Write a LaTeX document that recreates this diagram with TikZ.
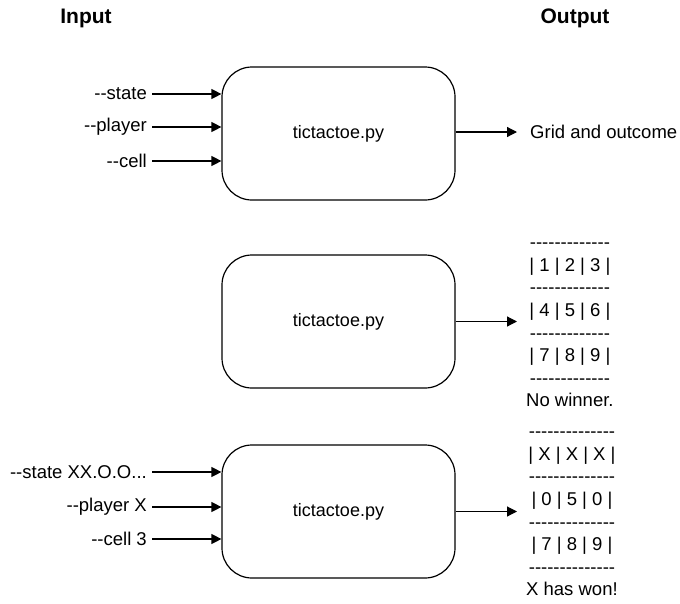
\documentclass[tikz,border=0pt]{standalone}
\usepackage{fontspec}
\setmainfont{Liberation Sans}[Ligatures=TeXOff]
\usepackage{tikz}
\usetikzlibrary{arrows.meta,positioning}

\tikzset{
    prog/.style={draw, line width=1.2pt, rounded corners=30pt, minimum width=233pt, minimum height=133pt, font=\fontsize{18}{21}\selectfont},
    arg/.style={anchor=east, inner sep=5pt, font=\fontsize{18.5}{21}\selectfont},
    result/.style={anchor=west, inner xsep=9pt, inner ysep=0pt, align=center, font=\fontsize{18.5}{22.6}\selectfont},
    title/.style={font=\fontsize{21}{24}\selectfont\bfseries},
    feed/.style={line width=1.2pt, -{Triangle[length=10pt,width=10pt]}}
}

\begin{document}
\begin{tikzpicture}[x=1pt, y=-1pt]
    \useasboundingbox (0,0) rectangle (680,603);
    \node[title] (In) at (86,18) {Input};
    \node[title] (Out) at (575,18) {Output};
    % first run: options only
    \node[prog] (P1) at (338.5,133.5) {tictactoe.py};
    \node[arg] (A1) at (152,94) {--state};
    \node[arg] (B1) at (152,127) {--player};
    \node[arg] (C1) at (152,161) {--cell};
    \foreach \a in {A1,B1,C1} {\draw[feed] (\a) -- (\a -| P1.west);}
    \node[result, inner xsep=13pt] (R1) at (517,132) {Grid and outcome};
    \draw[feed] (P1.east |- R1) -- (R1.west);
    % second run: no arguments
    \node[prog] (P2) at (338.5,321.5) {tictactoe.py};
    \node[result] (R2) at (517,325) {-------------\\| 1 | 2 | 3 |\\-------------\\| 4 | 5 | 6 |\\-------------\\| 7 | 8 | 9 |\\-------------\\No winner.};
    \draw[feed] (P2.east) -- (P2.east -| R2.west);
    % third run: X wins
    \node[prog] (P3) at (338.5,511.5) {tictactoe.py};
    \node[arg] (A3) at (152,472) {--state XX.O.O...};
    \node[arg] (B3) at (152,507) {--player X};
    \node[arg] (C3) at (152,539) {--cell 3};
    \foreach \a in {A3,B3,C3} {\draw[feed] (\a) -- (\a -| P3.west);}
    \node[result] (R3) at (517,514) {--------------\\| X | X | X |\\--------------\\| 0 | 5 | 0 |\\--------------\\| 7 | 8 | 9 |\\--------------\\X has won!};
    \draw[feed] (P3.east) -- (P3.east -| R3.west);
\end{tikzpicture}
\end{document}
